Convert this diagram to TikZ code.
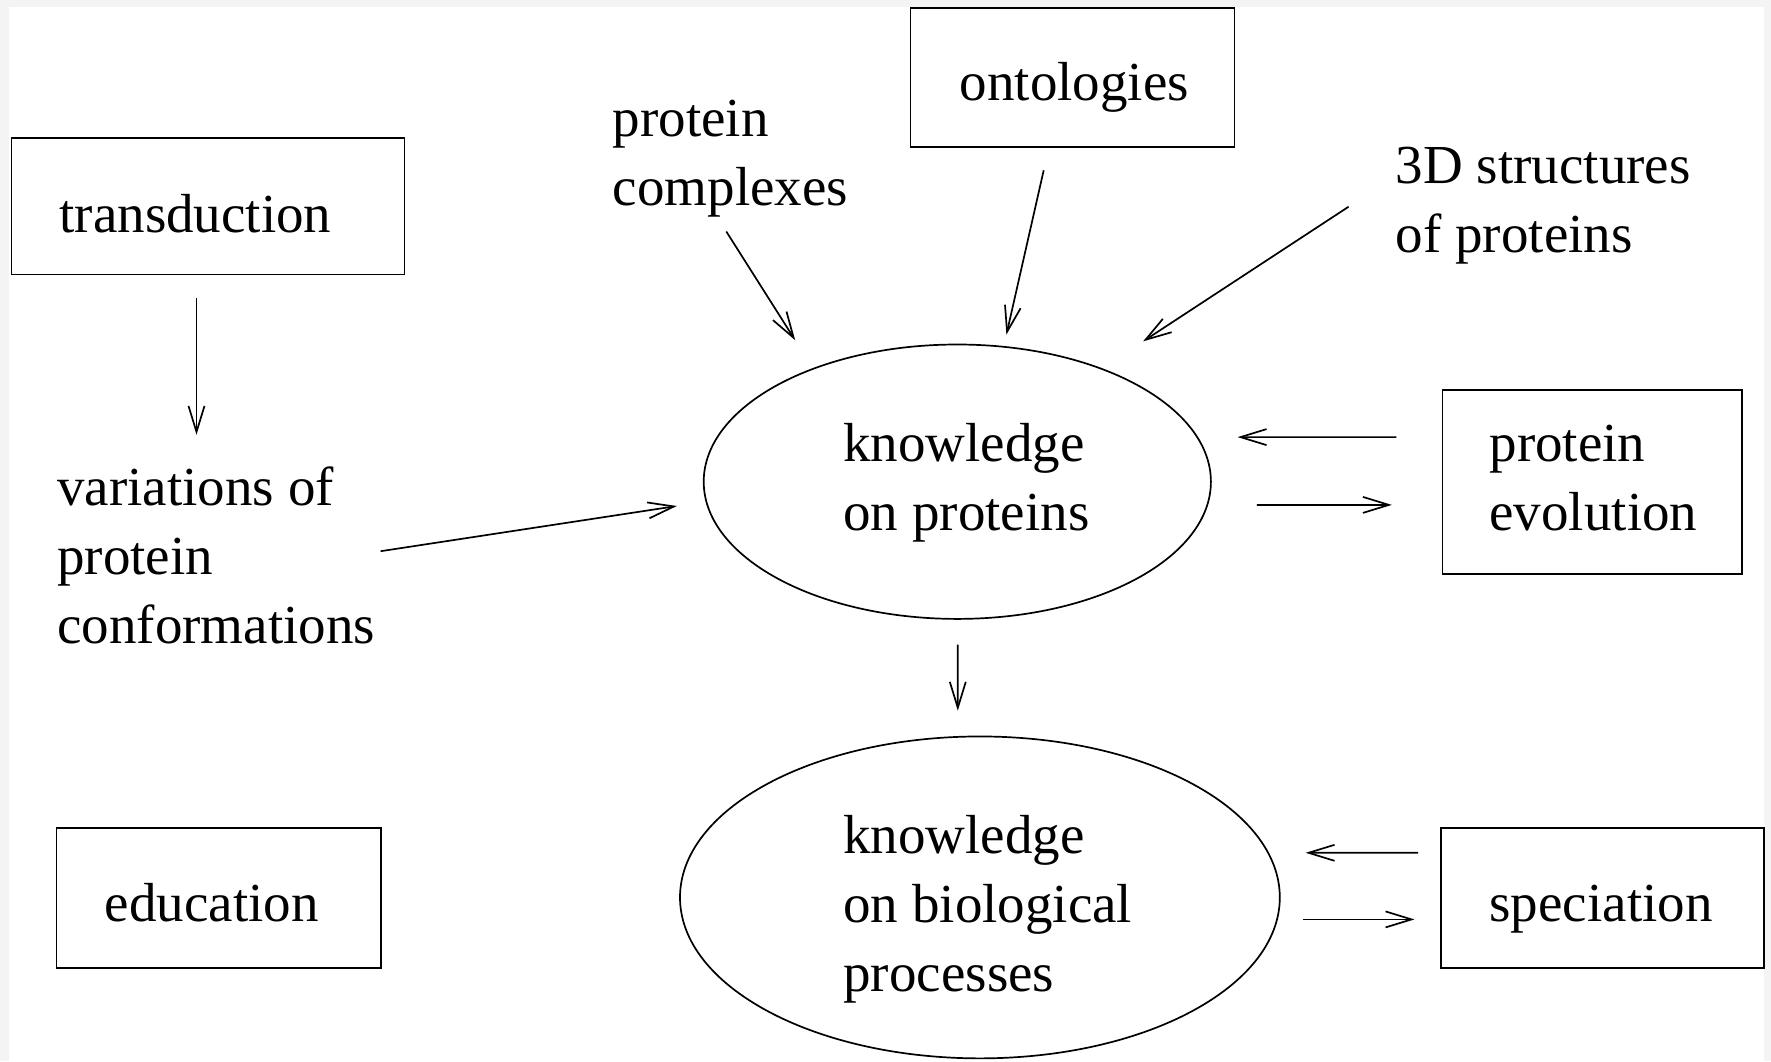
\documentclass[tikz,border=0pt]{standalone}
\usepackage{fontspec}
\setmainfont{Liberation Serif}
\usetikzlibrary{arrows.meta,shapes.geometric,calc}
\begin{document}
\begin{tikzpicture}[x=1pt,y=-1pt,
  line width=1.7pt,
  box/.style={draw,rectangle,inner sep=0pt},
  oval/.style={draw,ellipse,inner sep=0pt},
  txt/.style={font=\fontsize{55}{69}\selectfont,align=left,inner sep=0pt,anchor=north west},
  arr/.style={-{Straight Barb[length=26pt,width=16pt]}}
]
\fill[gray!9] (0,0) rectangle (1771,1061);
\fill[white] (9,6.5) rectangle (1764,1061);
\useasboundingbox (0,0) rectangle (1771,1061);

% boxes
\node[box, minimum width=393.1pt, minimum height=136.7pt] (trans) at (207.9,206.2) {};
\node[box, minimum width=324.1pt, minimum height=138.9pt] (onto) at (1072.5,77.4) {};
\node[box, minimum width=299.3pt, minimum height=184.1pt] (evol) at (1592,481.8) {};
\node[box, minimum width=324.1pt, minimum height=140.1pt] (edu) at (218.6,898) {};
\node[box, minimum width=322.8pt, minimum height=140pt] (spec) at (1602.6,898) {};

% ellipses
\node[oval, minimum width=507.2pt, minimum height=274.4pt] (ell1) at (957.3,481.7) {};
\node[oval, minimum width=599.8pt, minimum height=321.9pt] (ell2) at (979.9,897.4) {};

% texts
\node[txt] (transT) at (58.7,183.2) {\strut transduction};
\node[txt] (ontoT) at (959,51.1) {\strut ontologies};
\node[txt] (cplx) at (612,87.2) {\strut protein\\complexes};
\node[txt] (s3d) at (1395,134.7) {\strut 3D structures\\of proteins};
\node[txt] (k1) at (842.6,412.5) {\strut knowledge\\on proteins};
\node[txt] (evolT) at (1488.7,412.5) {\strut protein\\evolution};
\node[txt] (var) at (56.5,456.7) {\strut variations of\\protein\\conformations};
\node[txt] (k2) at (842.6,804.5) {\strut knowledge\\on biological\\processes};
\node[txt] (eduT) at (104,872.2) {\strut education};
\node[txt] (specT) at (1488.7,872.2) {\strut speciation};

% connectors
\draw[arr] ($(trans.south)+(-11.4,22.5)$) -- ($(var.north west)+(140,-21.9)$);
\draw[arr] ($(var.north west)+(324.1,94.5)$) -- ($(ell1.west)+(-26,24.3)$);
\draw[arr] ($(cplx.north west)+(114.3,144.3)$) -- ($(ell1.north)+(-162.1,-3.4)$);
\draw[arr] ($(onto.south)+(-28.8,22.55)$) -- ($(ell1.north)+(49.1,-9)$);
\draw[arr] ($(s3d.north west)+(-46.4,72)$) -- ($(ell1.north)+(185.8,-2.3)$);
\draw[arr] ($(evol.west)+(-45.2,-44.7)$) -- ($(ell1.east)+(25.9,-44.6)$);
\draw[arr] ($(ell1.east)+(45.1,23.2)$) -- ($(evol.west)+(-49.7,23.1)$);
\draw[arr] ($(ell1.south)+(0.5,24.9)$) -- ($(ell2.north)+(-22.1,-24.9)$);
\draw[arr] ($(spec.west)+(-22.3,-45.2)$) -- ($(ell2.east)+(25,-44.6)$);
\draw[arr] ($(ell2.east)+(22.5,22)$) -- ($(spec.west)+(-25.9,21.4)$);
\end{tikzpicture}
\end{document}
